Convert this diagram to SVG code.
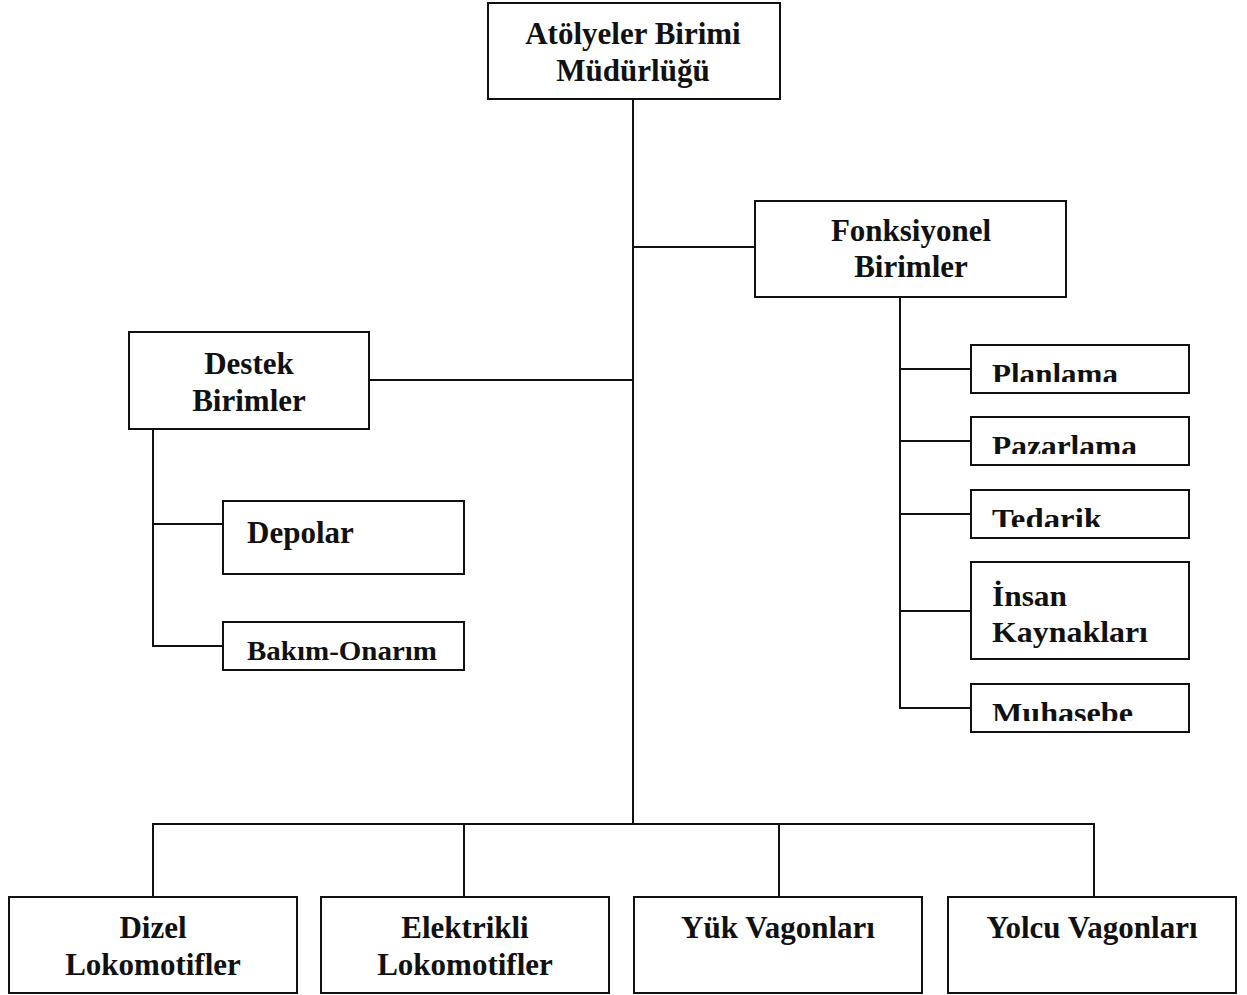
<svg xmlns="http://www.w3.org/2000/svg" width="1247" height="995" viewBox="0 0 1247 995">
  <style>
    .box { fill: #ffffff; stroke: #111111; stroke-width: 2; }
    .wire { fill: none; stroke: #111111; stroke-width: 2; }
    .lbl { font-family: "Liberation Serif", "Times New Roman", serif; font-weight: bold; font-size: 31px; fill: #111111; }
    .mid { text-anchor: middle; }
    .sm { font-size: 29px; }
    .sm2 { font-size: 27px; }
  </style>
  <defs>
    <!-- text in the small unit boxes is cut off flat at the bottom -->
    <clipPath id="clipPlan"><rect x="971" y="345" width="218" height="37"/></clipPath>
    <clipPath id="clipPaz"><rect x="971" y="417" width="218" height="37"/></clipPath>
    <clipPath id="clipTed"><rect x="971" y="490" width="218" height="37"/></clipPath>
    <clipPath id="clipMuh"><rect x="971" y="684" width="218" height="37"/></clipPath>
  </defs>
  <rect width="1247" height="995" fill="#ffffff"/>

  <g id="connectors">
    <!-- trunk from the directorate down to the production bus -->
    <path class="wire" d="M633 99 V824"/>
    <path class="wire" d="M633 247 H755"/>
    <path class="wire" d="M369 380 H633"/>
    <!-- functional units branch -->
    <path class="wire" d="M900 297 V708 H971"/>
    <path class="wire" d="M900 369 H971"/>
    <path class="wire" d="M900 441 H971"/>
    <path class="wire" d="M900 514 H971"/>
    <path class="wire" d="M900 611 H971"/>
    <!-- support units branch -->
    <path class="wire" d="M153 429 V646 H223"/>
    <path class="wire" d="M153 524 H223"/>
    <!-- production bus -->
    <path class="wire" d="M153 897 V824 H1094 V897"/>
    <path class="wire" d="M464 824 V897"/>
    <path class="wire" d="M779 824 V897"/>
  </g>

  <g id="mudurluk">
    <rect class="box" x="488" y="3" width="292" height="96"/>
    <text class="lbl mid" x="633" y="44">Atölyeler Birimi</text>
    <text class="lbl mid" x="633" y="81">Müdürlüğü</text>
  </g>

  <g id="fonksiyonel">
    <rect class="box" x="755" y="201" width="311" height="96"/>
    <text class="lbl mid" x="911" y="241">Fonksiyonel</text>
    <text class="lbl mid" x="911" y="277">Birimler</text>
  </g>

  <g id="destek">
    <rect class="box" x="129" y="332" width="240" height="97"/>
    <text class="lbl mid" x="249" y="374">Destek</text>
    <text class="lbl mid" x="249" y="411">Birimler</text>
  </g>

  <g id="depolar">
    <rect class="box" x="223" y="501" width="241" height="73"/>
    <text class="lbl" x="247" y="543">Depolar</text>
  </g>

  <g id="bakim-onarim">
    <rect class="box" x="223" y="622" width="241" height="48"/>
    <text class="lbl sm2" x="247" y="660" textLength="190" lengthAdjust="spacingAndGlyphs">Bakım-Onarım</text>
  </g>

  <g id="planlama">
    <rect class="box" x="971" y="345" width="218" height="48"/>
    <text class="lbl sm" x="992" y="384" clip-path="url(#clipPlan)" textLength="126" lengthAdjust="spacingAndGlyphs">Planlama</text>
  </g>

  <g id="pazarlama">
    <rect class="box" x="971" y="417" width="218" height="48"/>
    <text class="lbl sm" x="992" y="456" clip-path="url(#clipPaz)" textLength="145" lengthAdjust="spacingAndGlyphs">Pazarlama</text>
  </g>

  <g id="tedarik">
    <rect class="box" x="971" y="490" width="218" height="48"/>
    <text class="lbl sm" x="992" y="529" clip-path="url(#clipTed)" textLength="110" lengthAdjust="spacingAndGlyphs">Tedarik</text>
  </g>

  <g id="insan-kaynaklari">
    <rect class="box" x="971" y="562" width="218" height="97"/>
    <text class="lbl sm" x="992" y="606" textLength="75" lengthAdjust="spacingAndGlyphs">İnsan</text>
    <text class="lbl sm" x="992" y="642" textLength="156" lengthAdjust="spacingAndGlyphs">Kaynakları</text>
  </g>

  <g id="muhasebe">
    <rect class="box" x="971" y="684" width="218" height="48"/>
    <text class="lbl sm" x="992" y="723" clip-path="url(#clipMuh)" textLength="141" lengthAdjust="spacingAndGlyphs">Muhasebe</text>
  </g>

  <g id="dizel">
    <rect class="box" x="9" y="897" width="288" height="96"/>
    <text class="lbl mid" x="153" y="938">Dizel</text>
    <text class="lbl mid" x="153" y="975">Lokomotifler</text>
  </g>

  <g id="elektrikli">
    <rect class="box" x="321" y="897" width="288" height="96"/>
    <text class="lbl mid" x="465" y="938">Elektrikli</text>
    <text class="lbl mid" x="465" y="975">Lokomotifler</text>
  </g>

  <g id="yuk-vagonlari">
    <rect class="box" x="634" y="897" width="288" height="96"/>
    <text class="lbl mid" x="778" y="938">Yük Vagonları</text>
  </g>

  <g id="yolcu-vagonlari">
    <rect class="box" x="948" y="897" width="288" height="96"/>
    <text class="lbl mid" x="1092" y="938">Yolcu Vagonları</text>
  </g>
</svg>
